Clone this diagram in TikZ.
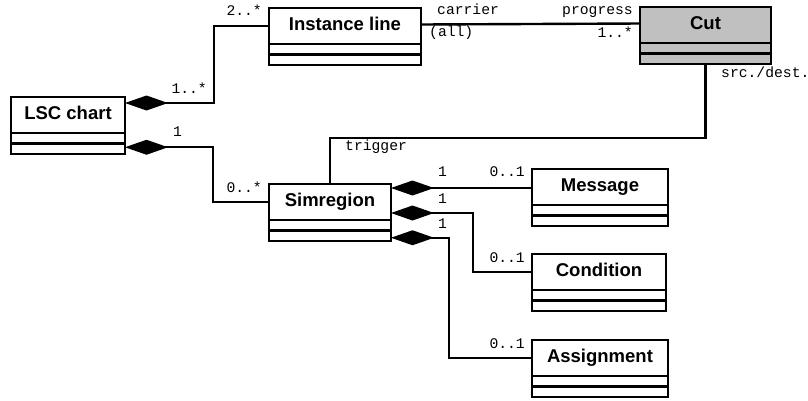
\documentclass[tikz,border=0pt]{standalone}
\usepackage{fontspec}
\setmainfont{Liberation Sans}
\newfontfamily\monolabel{Liberation Mono}
\usetikzlibrary{arrows.meta,calc}

\definecolor{cutgray}{RGB}{192,192,192}

\tikzset{
  classname/.style={draw, line width=2.8bp, inner sep=0pt, outer sep=0pt,
    minimum height=36bp, text height=13.3bp, text depth=5bp,
    font=\fontsize{18.5bp}{20bp}\selectfont\bfseries},
  classpart/.style={draw, line width=2.8bp, inner sep=0pt, outer sep=0pt,
    minimum height=10.5bp, text height=0pt, text depth=0pt},
  assoc/.style={line width=2.4bp},
  comp/.style={assoc, {Diamond[length=43bp, width=15bp]}-},
  mult/.style={inner sep=0pt, font=\monolabel\fontsize{14.7bp}{16bp}\selectfont},
}

% UML class box: name compartment plus two empty compartments
% #1 node name, #2 x, #3 y of top edge, #4 width, #5 label, #6 fill
\newcommand\umlclass[6]{%
  \node[classname, fill=#6, minimum width=#4, anchor=north west] (#1) at (#2,#3) {#5};
  \node[classpart, fill=#6, minimum width=#4, anchor=north] (#1-b) at (#1.south) {};
  \node[classpart, fill=#6, minimum width=#4, anchor=north] (#1-c) at (#1-b.south) {};
}

\begin{document}
\begin{tikzpicture}[x=1bp, y=-1bp]
\useasboundingbox (0,0) rectangle (808,400);

\umlclass{lsc}{11}{97}{114bp}{LSC chart}{white}
\umlclass{inst}{269}{8}{152bp}{Instance line}{white}
\umlclass{cut}{640}{7}{131bp}{Cut}{cutgray}
\umlclass{sim}{269}{184}{122bp}{Simregion}{white}
\umlclass{msg}{532}{169}{136bp}{Message}{white}
\umlclass{cond}{532}{254}{134bp}{Condition}{white}
\umlclass{asg}{532}{340}{136bp}{Assignment}{white}

% LSC chart aggregates instance lines and simregions
\draw[comp] ($(lsc.north east)+(0,6)$) -- ++(89,0) |- (inst.west);
\draw[comp] ($(lsc-c.east)+(0,-1.5)$) -- ++(88,0) |- (sim.west);

% instance lines and cuts
\draw[assoc] ([yshift=1.5bp]inst.east) -- ([yshift=1.5bp]cut.west);

% trigger / source-destination cut of a simregion
\draw[assoc] (sim.north) -- ++(0,-46) -| (cut-c.south);

% simregion parts
\coordinate (smsg) at ($(sim.north east)+(0,4)$);
\draw[comp] (smsg) -- (smsg -| msg.west);
\draw[comp] ($(sim.south east)+(0,-7)$) -- ++(82,0) |- (cond.west);
\draw[comp] ($(sim-c.east)+(0,2)$) -- ++(58,0) |- (asg.west);

% multiplicities and role names
\node[mult, anchor=base east] (m1) at (262,15) {2..*};
\node[mult, anchor=base east] (m2) at (207,93) {1..*};
\node[mult, anchor=base west] (m3) at (173,136) {1};
\node[mult, anchor=base east] (m4) at (262,192) {0..*};
\node[mult, anchor=base west] (m5) at (345,150) {trigger};
\node[mult, anchor=base west] (m6) at (437,14) {carrier};
\node[mult, anchor=base west] (m7) at (429,36) {(all)};
\node[mult, anchor=base east] (m8) at (633,14) {progress};
\node[mult, anchor=base east] (m9) at (633,37) {1..*};
\node[mult, anchor=base west] (m10) at (721,77) {src./dest.};
\node[mult, anchor=base west] (m11) at (438,176) {1};
\node[mult, anchor=base east] (m12) at (525,176) {0..1};
\node[mult, anchor=base west] (m13) at (438,203) {1};
\node[mult, anchor=base east] (m14) at (525,262) {0..1};
\node[mult, anchor=base west] (m15) at (438,228) {1};
\node[mult, anchor=base east] (m16) at (525,348) {0..1};
\end{tikzpicture}
\end{document}
